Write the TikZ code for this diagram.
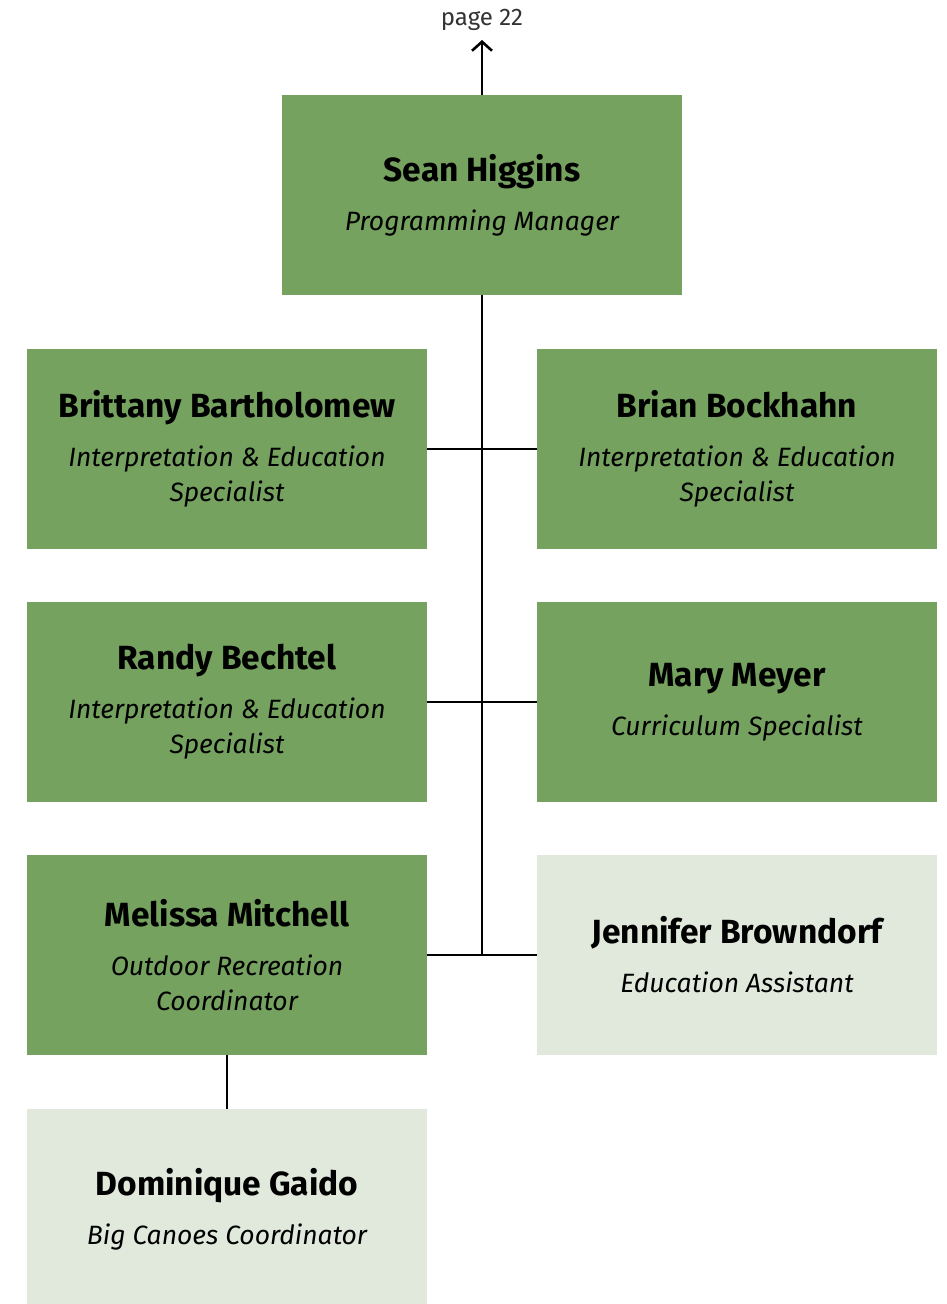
\documentclass[tikz,border=0pt]{standalone}
\usepackage{fontspec}
\setmainfont{Fira Sans}
\usetikzlibrary{arrows.meta}
\definecolor{staffgreen}{HTML}{75A25F}
\definecolor{palegreen}{HTML}{E0E9DC}
\definecolor{notegrey}{HTML}{333333}
\tikzset{
    staff/.style={fill=staffgreen, minimum width=400pt, minimum height=200pt,
        inner sep=0pt, align=center, font=\fontsize{26.5}{35}\selectfont\itshape},
    helper/.style={staff, fill=palegreen},
    link/.style={line width=2.6pt},
}
\newcommand{\who}[1]{{\fontsize{33.5}{35}\selectfont\bfseries\upshape #1}\\[14pt]}
\begin{document}
\begin{tikzpicture}[x=1pt,y=-1pt,>={Straight Barb[length=9pt,width=20pt]}]
    \useasboundingbox (0,0) rectangle (947,1304);

    \node[font=\fontsize{24}{28}\selectfont, text=notegrey] (page) at (482,20) {page 22};

    \node[staff]  (sean)      at (482,195)  {\who{Sean Higgins}Programming Manager};
    \node[staff]  (brittany)  at (227,449)  {\who{Brittany Bartholomew}Interpretation \& Education\\Specialist};
    \node[staff]  (brian)     at (737,449)  {\who{Brian Bockhahn}Interpretation \& Education\\Specialist};
    \node[staff]  (randy)     at (227,702)  {\who{Randy Bechtel}Interpretation \& Education\\Specialist};
    \node[staff]  (mary)      at (737,702)  {\who{Mary Meyer}Curriculum Specialist};
    \node[staff]  (melissa)   at (227,955)  {\who{Melissa Mitchell}Outdoor Recreation\\Coordinator};
    \node[helper] (jennifer)  at (737,955)  {\who{Jennifer Browndorf}Education Assistant};
    \node[helper] (dominique) at (227,1209) {\who{Dominique Gaido}Big Canoes Coordinator};

    \coordinate (up)   at (482,40);
    \coordinate (foot) at (482,955);

    \draw[link,->] (sean.north) -- (up);
    \draw[link] (sean.south) -- (foot);
    \draw[link] (brittany.east) -- (brian.west);
    \draw[link] (randy.east) -- (mary.west);
    \draw[link] (melissa.east) -- (jennifer.west);
    \draw[link] (melissa.south) -- (dominique.north);
\end{tikzpicture}
\end{document}
